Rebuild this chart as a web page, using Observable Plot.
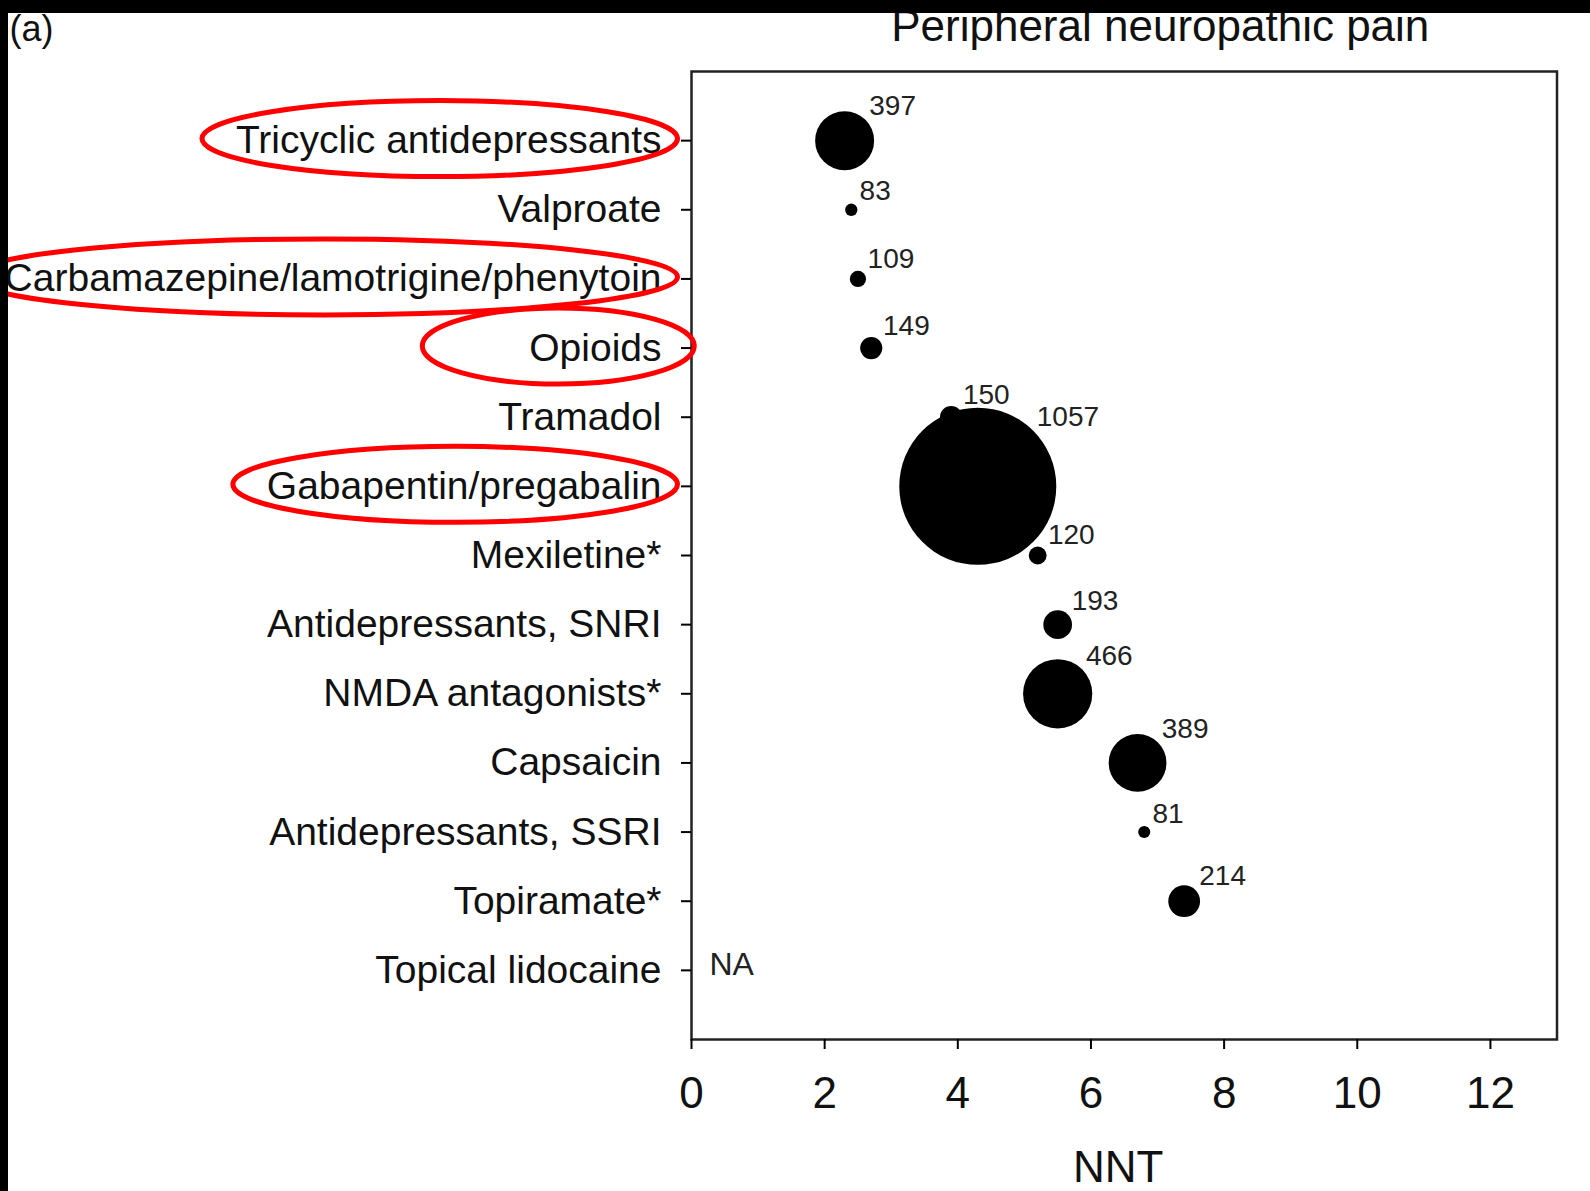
<!DOCTYPE html>
<html>
<head>
<meta charset="utf-8">
<script src="https://cdn.jsdelivr.net/npm/d3@7"></script>
<script src="https://cdn.jsdelivr.net/npm/@observablehq/plot@0.6"></script>
<style>
  body { margin: 0; background: #fff; }
  #wrap { position: relative; width: 1590px; height: 1191px; overflow: hidden; background: #fff; }
  .bar { position: absolute; background: #000; }
  svg { font-family: "Liberation Sans", Arial, Helvetica, sans-serif; }
</style>
</head>
<body>
<div id="wrap"></div>
<script>
// ---- data ----
const categories = [
  "Tricyclic antidepressants",
  "Valproate",
  "Carbamazepine/lamotrigine/phenytoin",
  "Opioids",
  "Tramadol",
  "Gabapentin/pregabalin",
  "Mexiletine*",
  "Antidepressants, SNRI",
  "NMDA antagonists*",
  "Capsaicin",
  "Antidepressants, SSRI",
  "Topiramate*",
  "Topical lidocaine"
];
const nnt      = [2.3, 2.4, 2.5, 2.7, 3.9, 4.3, 5.2, 5.5, 5.5, 6.7, 6.8, 7.4, null];
const patients = [397, 83, 109, 149, 150, 1057, 120, 193, 466, 389, 81, 214, null];
const xTicks = [0, 2, 4, 6, 8, 10, 12];
const highlighted = [
  "Tricyclic antidepressants",
  "Carbamazepine/lamotrigine/phenytoin",
  "Opioids",
  "Gabapentin/pregabalin"
];
const titleText = "Peripheral neuropathic pain";
const panelText = "(a)";
const xLabelText = "NNT";
const naText = "NA";

// ---- layout ----
const W = 1590, H = 1191;
const mL = 691, mR = 33.5, mT = 71, mB = 152;
const xMax = 13;
const rMax = 78.5;
const pxX = (W - mL - mR) / xMax;
const pxY = (H - mT - mB) / (categories.length + 1);

const rows = categories.map((c, i) => ({cat: c, idx: i, nnt: nnt[i], n: patients[i]}));
const valued = rows.filter(d => d.nnt != null);
const missing = rows.filter(d => d.nnt == null);
const rPx = n => n / d3.max(patients) * rMax;

const chart = Plot.plot({
  width: W,
  height: H,
  marginLeft: mL,
  marginRight: mR,
  marginTop: mT,
  marginBottom: mB,
  style: {fontFamily: '"Liberation Sans", Arial, Helvetica, sans-serif', background: "#fff", overflow: "visible"},
  x: {domain: [0, xMax]},
  y: {domain: [-1, categories.length], reverse: true},
  r: {type: "linear", domain: [0, d3.max(patients)], range: [0, rMax]},
  marks: [
    Plot.dot(valued, {x: "nnt", y: "idx", r: "n", fill: "black", stroke: "none"}),
    Plot.text(valued, {
      x: d => d.nnt + (0.7 * rPx(d.n) + 4) / pxX,
      y: d => d.idx - (0.7 * rPx(d.n) + 5) / pxY,
      text: d => String(d.n),
      textAnchor: "start",
      lineAnchor: "bottom",
      fontSize: 28,
      fill: "#222"
    }),
    Plot.text(missing, {
      x: () => 0, y: "idx", text: () => naText,
      dx: 18, dy: 5, textAnchor: "start", lineAnchor: "bottom", fontSize: 32, fill: "#222"
    }),
    Plot.frame({stroke: "#222", strokeWidth: 2.5}),
    Plot.axisY({
      ticks: d3.range(categories.length),
      tickFormat: i => categories[i],
      tickSize: 10, tickPadding: 20, fontSize: 39, strokeWidth: 2, label: null, fill: "#111"
    }),
    Plot.axisX({
      ticks: xTicks, tickSize: 10, tickPadding: 27, fontSize: 44, strokeWidth: 2, label: null, fill: "#111"
    }),
    Plot.text([titleText], {frameAnchor: "top", dx: 36, dy: -31, lineAnchor: "bottom", fontSize: 44, fill: "#111"}),
    Plot.text([panelText], {frameAnchor: "top-left", dx: 9 - mL, dy: 40 - mT, textAnchor: "start", lineAnchor: "bottom", fontSize: 36, fill: "#111"}),
    Plot.text([xLabelText], {frameAnchor: "bottom", dx: -6, dy: 142, lineAnchor: "bottom", fontSize: 44, fill: "#111"})
  ]
});

const wrapEl = document.getElementById("wrap");
wrapEl.appendChild(chart);

// ---- red ellipses around highlighted tick labels ----
const svgRect = chart.getBoundingClientRect();
const svgSel = d3.select(chart);
chart.querySelectorAll('g[aria-label="y-axis tick label"] text').forEach(t => {
  if (!highlighted.includes(t.textContent)) return;
  const b = t.getBoundingClientRect();
  const w = b.width;
  const rx = Math.max(w / 2 + 25, 136);
  const right = b.right - svgRect.left + 16 + Math.max(0, 30 - w / 10);
  const cx = right - rx;
  const cy = b.top - svgRect.top + b.height / 2 - 1;
  svgSel.append("ellipse")
    .attr("cx", cx).attr("cy", cy)
    .attr("rx", rx).attr("ry", 38)
    .attr("fill", "none").attr("stroke", "#ff0000").attr("stroke-width", 5);
});

// ---- black scan borders ----
const topBar = document.createElement("div");
topBar.className = "bar";
Object.assign(topBar.style, {left: "0px", top: "0px", width: W + "px", height: "13px"});
const leftBar = document.createElement("div");
leftBar.className = "bar";
Object.assign(leftBar.style, {left: "0px", top: "0px", width: "8px", height: H + "px"});
wrapEl.appendChild(topBar);
wrapEl.appendChild(leftBar);
</script>
</body>
</html>
